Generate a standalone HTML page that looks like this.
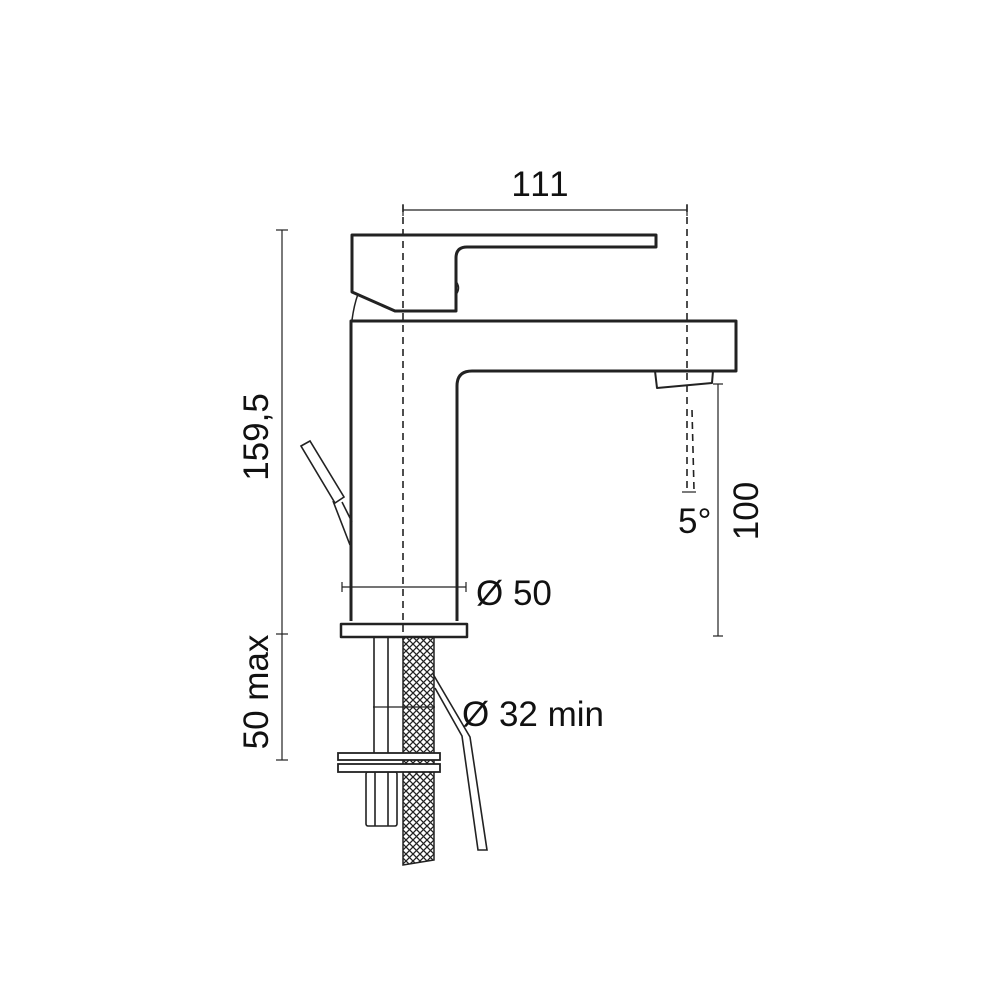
<!DOCTYPE html>
<html><head><style>html,body{margin:0;padding:0;background:#fff}svg{display:block}</style></head>
<body>
<svg width="1000" height="1000" viewBox="0 0 1000 1000" xmlns="http://www.w3.org/2000/svg">
<defs>
<pattern id="mesh" width="7" height="7" patternUnits="userSpaceOnUse">
<path d="M0 0L7 7M7 0L0 7" stroke="#222" stroke-width="1.3"/>
</pattern>
</defs>
<g fill="none" stroke="#222" stroke-width="1.2">
<line x1="282" y1="230" x2="282" y2="760"/>
<line x1="276" y1="230" x2="288" y2="230"/>
<line x1="276" y1="634" x2="288" y2="634"/>
<line x1="276" y1="760" x2="288" y2="760"/>
<line x1="403" y1="210" x2="687" y2="210"/>
<line x1="403" y1="204" x2="403" y2="216"/>
<line x1="687" y1="204" x2="687" y2="216"/>
<line x1="718" y1="384" x2="718" y2="636"/>
<line x1="713" y1="384" x2="723" y2="384"/>
<line x1="713" y1="636" x2="723" y2="636"/>
<line x1="342" y1="587" x2="466" y2="587"/>
<line x1="342" y1="582" x2="342" y2="592"/>
<line x1="466" y1="582" x2="466" y2="592"/>
<line x1="373" y1="707" x2="435" y2="707"/>
<line x1="682" y1="492" x2="696" y2="492"/>
</g>
<g fill="none" stroke="#222" stroke-width="1.6" stroke-dasharray="7,5">
<line x1="403" y1="205" x2="403" y2="640"/>
<line x1="687" y1="205" x2="687" y2="490"/>
<line x1="692" y1="410" x2="694" y2="490"/>
</g>
<g fill="none" stroke="#222" stroke-width="3" stroke-linejoin="round">
<path d="M456 311 V258 Q456 247 467 247 H656 V235 H352 V292 L395 311 Z"/>
<path d="M358 294 Q354 305 352 320" stroke-width="1.5"/>
<path d="M455 280 Q462 288 455 296" stroke-width="1.5"/>
<path d="M351 621 V321 H736 V371 H472 Q457 371 457 386 V621"/>
<path d="M655 371 L657 388 L712 383 L713 371" stroke-width="2"/>
<rect x="341" y="624" width="126" height="13" stroke-width="2.5"/>
</g>
<g fill="none" stroke="#222" stroke-width="1.6">
<path d="M301 446 L310 441 L344 497 L335 503 Z"/>
<path d="M333 501 L350 545 M342 502 L352 522"/>
<line x1="374" y1="637" x2="374" y2="753"/>
<line x1="388" y1="637" x2="388" y2="753"/>
<rect x="366" y="772" width="31" height="54" rx="2"/>
<line x1="375" y1="772" x2="375" y2="826"/>
<line x1="388" y1="772" x2="388" y2="826"/>
<path d="M435 688 L462 736 L478 850 L487 850 L470 737 L433 674"/>
</g>
<path d="M403 637 H434 V860 L403 865 Z" fill="url(#mesh)" stroke="#222" stroke-width="1.5"/>
<g fill="#fff" stroke="#222" stroke-width="1.8">
<rect x="338" y="753" width="102" height="7"/>
<rect x="338" y="764" width="102" height="8"/>
</g>
<g font-family="'Liberation Sans', 'DejaVu Sans', sans-serif" fill="#111" font-size="35">
<text x="541" y="196" text-anchor="middle" letter-spacing="2">111</text>
<text x="476" y="605">Ø 50</text>
<text x="462" y="726">Ø 32 min</text>
<text transform="translate(268,437) rotate(-90)" text-anchor="middle">159,5</text>
<text transform="translate(268,692) rotate(-90)" text-anchor="middle">50  max</text>
<text transform="translate(758,511) rotate(-90)" text-anchor="middle">100</text>
<text x="678" y="533">5°</text>
</g>
</svg>
</body></html>
